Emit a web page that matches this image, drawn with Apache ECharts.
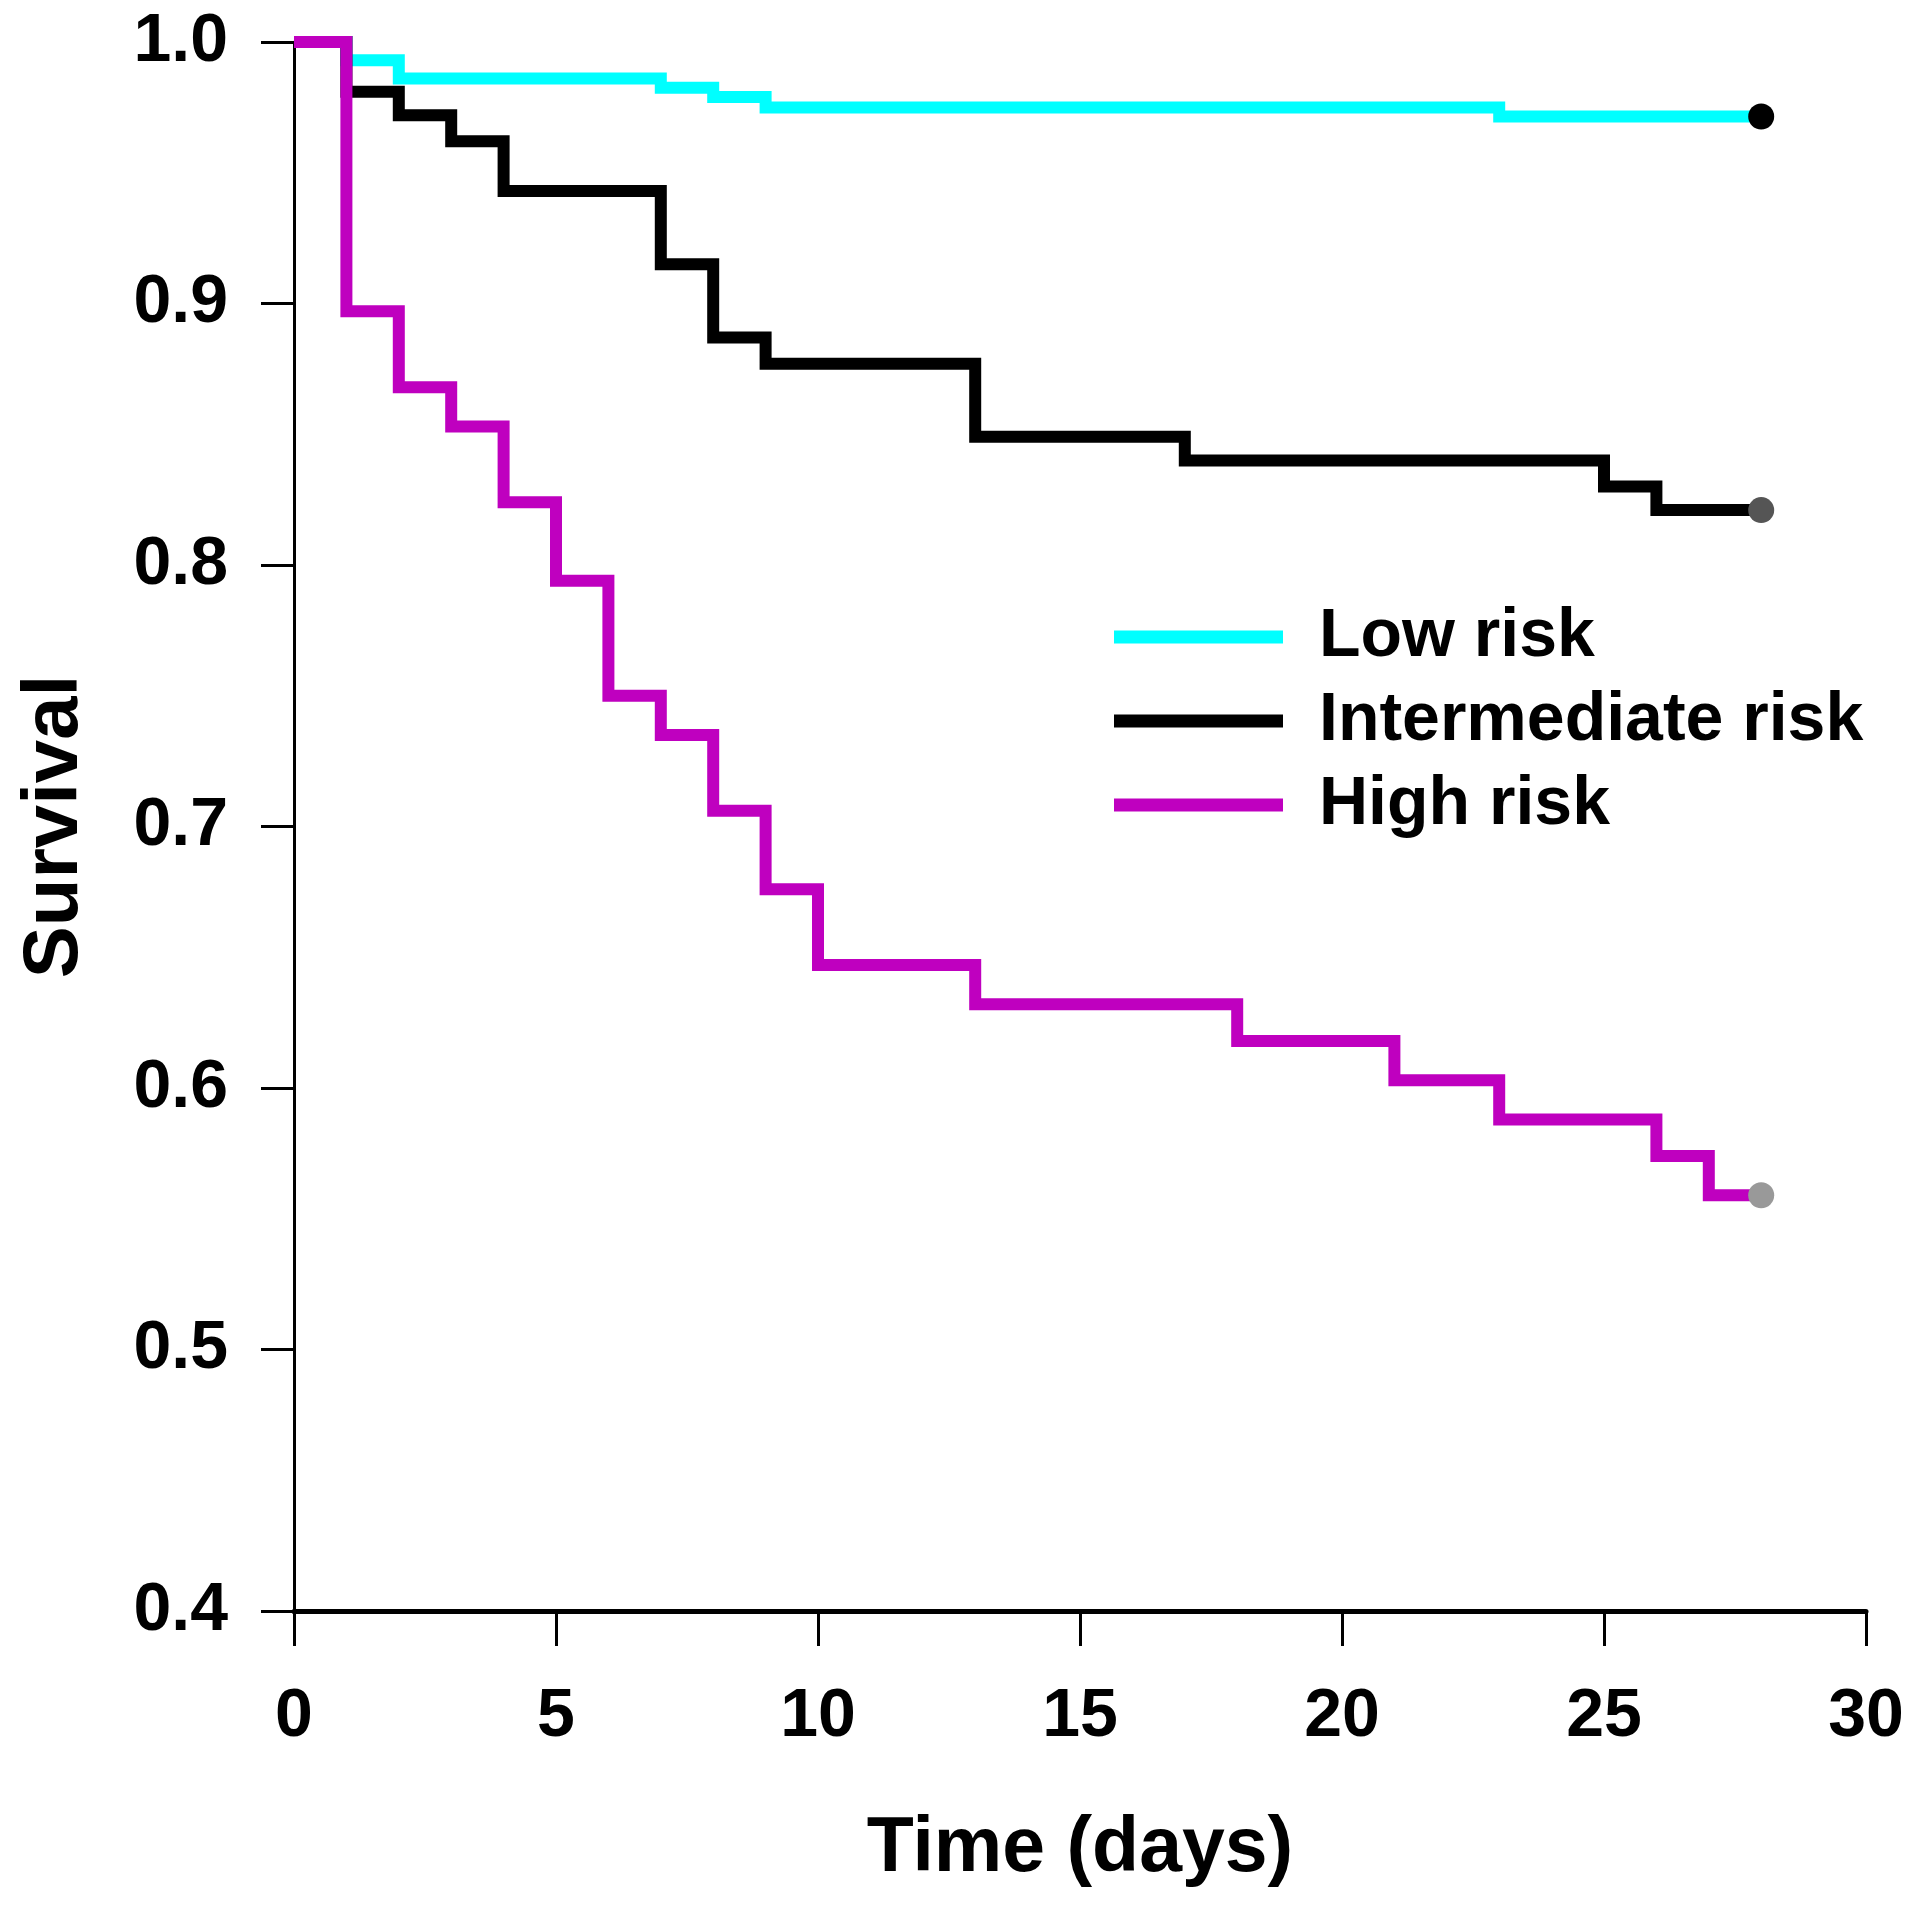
<!DOCTYPE html>
<html><head><meta charset="utf-8">
<script src="https://cdn.jsdelivr.net/npm/echarts@6/dist/echarts.min.js"></script>
<style>html,body{margin:0;padding:0;background:#fff}#c{width:1920px;height:1905px}</style>
</head><body><div id="c"></div>
<script>
// ---- data (Kaplan–Meier steps: survival holds from each time until the next) ----
const seriesNames = ['Low risk', 'Intermediate risk', 'High risk'];
const lowTimes  = [0, 1, 2, 7, 8, 9, 23, 28];
const lowSurv   = [1.0, 0.993, 0.986, 0.9825, 0.979, 0.975, 0.9715, 0.9715];
const intTimes  = [0, 1, 2, 3, 4, 7, 8, 9, 13, 17, 25, 26, 28];
const intSurv   = [1.0, 0.981, 0.972, 0.962, 0.943, 0.915, 0.887, 0.877, 0.849, 0.840, 0.830, 0.821, 0.821];
const highTimes = [0, 1, 2, 3, 4, 5, 6, 7, 8, 9, 10, 13, 18, 21, 23, 26, 27, 28];
const highSurv  = [1.0, 0.897, 0.868, 0.853, 0.824, 0.794, 0.750, 0.735, 0.706, 0.676, 0.647, 0.632, 0.618, 0.603, 0.588, 0.574, 0.559, 0.559];
const xTickLabels = [0, 5, 10, 15, 20, 25, 30];
const yTickLabels = ['0.4', '0.5', '0.6', '0.7', '0.8', '0.9', '1.0'];
const xTitle = 'Time (days)';
const yTitle = 'Survival';

// ---- styles ----
const FONT = '"Liberation Sans", Arial, Helvetica, sans-serif';
const lineColors = ['#00FFFF', '#000000', '#BF00BF'];
const endColors = ['#000000', '#555555', '#999999'];

const pairs = (t, s) => t.map((v, i) => [v, s[i]]);
const allT = [lowTimes, intTimes, highTimes];
const allS = [lowSurv, intSurv, highSurv];

const lineSeries = [1, 0, 2].map(i => ({
  name: seriesNames[i],
  type: 'line',
  step: 'end',
  data: pairs(allT[i], allS[i]),
  symbol: 'none',
  lineStyle: { color: lineColors[i], width: 12, cap: 'butt', join: 'miter' },
  itemStyle: { color: lineColors[i] },
  z: 2 + i,
  silent: true
}));
const endSeries = [0, 1, 2].map(i => ({
  name: 'end' + i,
  type: 'scatter',
  data: [[allT[i][allT[i].length - 1], allS[i][allS[i].length - 1]]],
  symbol: 'circle',
  symbolSize: 26,
  itemStyle: { color: endColors[i], opacity: 1 },
  z: 10,
  silent: true
}));

const chart = echarts.init(document.getElementById('c'), null, { renderer: 'canvas' });
chart.setOption({
  backgroundColor: '#ffffff',
  animation: false,
  grid: { left: 294, right: 54, top: 42, bottom: 294, containLabel: false },
  xAxis: {
    type: 'value', min: xTickLabels[0], max: xTickLabels[xTickLabels.length - 1], interval: 5,
    splitLine: { show: false },
    axisLine: { show: true, lineStyle: { color: '#000', width: 5 } },
    axisTick: { show: true, inside: false, length: 35, lineStyle: { color: '#000', width: 3 } },
    axisLabel: { margin: 72, fontFamily: FONT, fontWeight: 'bold', fontSize: 68, color: '#000' },
    name: xTitle, nameLocation: 'middle', nameGap: 200,
    nameTextStyle: { fontFamily: FONT, fontWeight: 'bold', fontSize: 77, color: '#000' }
  },
  yAxis: {
    type: 'value', min: 0.4, max: 1.0, interval: 0.1,
    splitLine: { show: false },
    axisLine: { show: true, onZero: false, lineStyle: { color: '#000', width: 3 } },
    axisTick: { show: true, inside: false, length: 33, lineStyle: { color: '#000', width: 3 } },
    axisLabel: {
      margin: 66, fontFamily: FONT, fontWeight: 'bold', fontSize: 68, color: '#000',
      formatter: v => yTickLabels[Math.round((v - 0.4) * 10)]
    },
    name: yTitle, nameLocation: 'middle', nameGap: 200, nameRotate: 90,
    nameTextStyle: { fontFamily: FONT, fontWeight: 'bold', fontSize: 78, color: '#000' }
  },
  legend: {
    data: seriesNames,
    orient: 'vertical',
    left: 1114, top: 602,
    padding: 0,
    itemGap: 14,
    icon: 'rect',
    itemWidth: 169, itemHeight: 13,
    selectedMode: false,
    textStyle: { fontFamily: FONT, fontWeight: 'bold', fontSize: 68, color: '#000', lineHeight: 70, padding: [0, 0, 0, 31] }
  },
  series: [...lineSeries, ...endSeries]
});
</script>
</body></html>
